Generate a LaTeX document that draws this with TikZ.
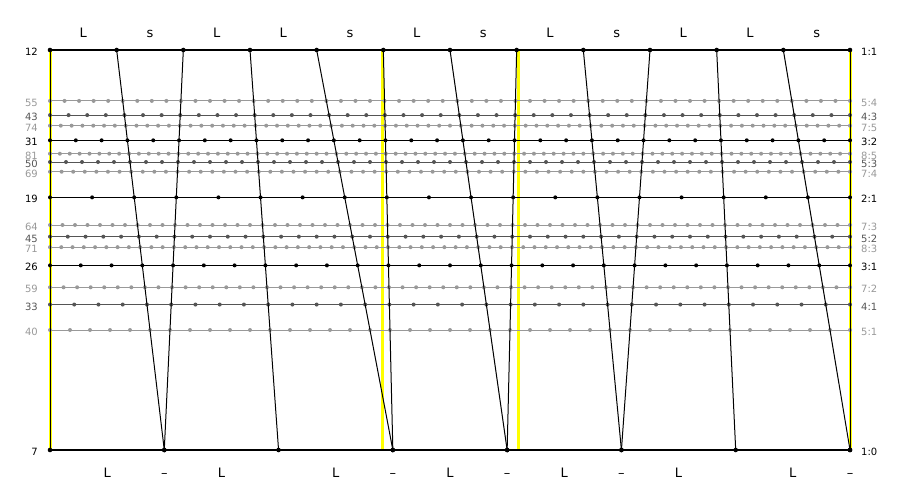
\documentclass[tikz,border=0pt]{standalone}
\usepackage{fontspec}
\setmainfont{DejaVu Sans}
\usetikzlibrary{calc}
\definecolor{rowmid}{HTML}{555555}
\definecolor{rowlight}{HTML}{999999}
\definecolor{justyellow}{HTML}{FFFF00}

\begin{document}
\begin{tikzpicture}[x=1pt,y=-1pt,
        font=\fontsize{13}{15}\selectfont,
        rowline/.style={line width=1pt},
        edgeline/.style={line width=1.5pt,black},
        slant/.style={line width=1pt,black},
        justline/.style={line width=3pt,justyellow},
        steplabel/.style={anchor=base,inner sep=0pt},
        edolabel/.style={inner sep=0pt,font=\fontsize{10}{12}\selectfont}]
                        \useasboundingbox (0,0) rectangle (900,500);

                        % just 1:1, 4:3, 3:2, 2:1
                        \foreach \x in {50,382,518,850}
                                \draw[justline] (\x,50) -- (\x,450);

                        % rows between 1:1 and 1:0
                        \foreach \n/\p/\q/\c in {55/5/4/rowlight, 43/4/3/rowmid, 74/7/5/rowlight,
                                31/3/2/black, 81/8/5/rowlight, 50/5/3/rowmid, 69/7/4/rowlight,
                                19/2/1/black, 64/7/3/rowlight, 45/5/2/rowmid, 71/8/3/rowlight,
                                26/3/1/black, 59/7/2/rowlight, 33/4/1/rowmid, 40/5/1/rowlight}{
                                \pgfmathsetmacro\yy{450-400*(12*\q/\n)}
                                \coordinate (w\n) at (50,\yy);
                                \coordinate (e\n) at (850,\yy);
                                \draw[rowline,\c] (w\n) -- (e\n);
                                \foreach \k in {0,...,\n}
                                        \fill[\c] ({50+800*(\k/\n)},\yy) circle[radius=2pt];
                                \node[edolabel,anchor=base east,text=\c] (left\n) at (38,{\yy+5.5}) {\n};
                                \node[edolabel,anchor=base west,text=\c] (right\n) at (861,{\yy+5.5}) {\p:\q};
                        }

                        % 12 and 7
                        \coordinate (w12) at (50,50);
                        \coordinate (e12) at (850,50);
                        \coordinate (w7) at (50,450);
                        \coordinate (e7) at (850,450);
                        \draw[edgeline] (w12) -- (e12);
                        \draw[edgeline] (w7) -- (e7);
                        \node[edolabel,anchor=base east] (left12) at (38,55.5) {12};
                        \node[edolabel,anchor=base west] (right12) at (861,55.5) {1:1};
                        \node[edolabel,anchor=base east] (left7) at (38,455.5) {7};
                        \node[edolabel,anchor=base west] (right7) at (861,455.5) {1:0};

                        % scale steps from 12 down to 7
                        \foreach \k/\a in {0/0,1/1,2/1,3/2,4/3,5/3,6/4,7/4,8/5,9/5,10/6,11/7,12/7}{
                                \coordinate (t\k) at ({50+800*(\k/12)},50);
                                \coordinate (b\k) at ({50+800*(\a/7)},450);
                                \draw[slant] (t\k) -- (b\k);
                                \fill (t\k) circle[radius=2.3pt];
                                \fill (b\k) circle[radius=2.3pt];
                        }

                        % step names
                        \foreach \k/\s/\u [evaluate=\k as \j using int(\k-1)] in {1/L/L,2/s/–,3/L/L,4/L/L,
                                5/s/–,6/L/L,7/s/–,8/L/L,9/s/–,10/L/L,11/L/L,12/s/–}{
                                \node[steplabel] (top\k) at ($(t\j)!.5!(t\k)+(0,-12)$) {\s};
                                \node[steplabel] (bot\k) at ($(b\j)!.5!(b\k)+(0,27)$) {\u};
                        }
\end{tikzpicture}
\end{document}
